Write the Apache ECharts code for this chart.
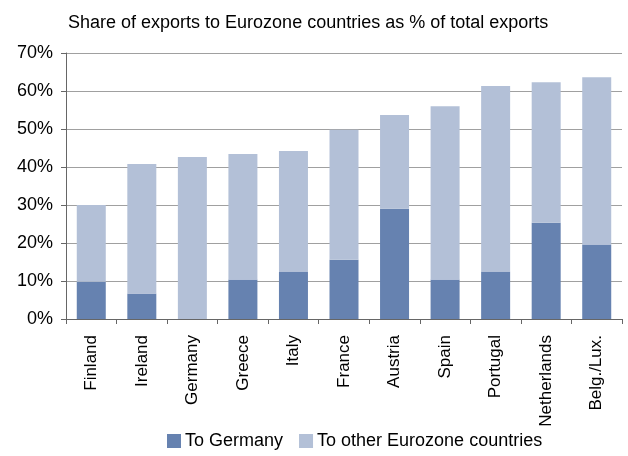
<!DOCTYPE html>
<html><head><meta charset="utf-8">
<script src="https://cdn.jsdelivr.net/npm/echarts@6/dist/echarts.min.js"></script>
<style>html,body{margin:0;padding:0;background:#fff}#c{width:628px;height:456px}</style>
</head><body><div id="c"></div>
<script>
const categories = ["Finland","Ireland","Germany","Greece","Italy","France","Austria","Spain","Portugal","Netherlands","Belg./Lux."];
const toGermany = [9.8, 6.7, 0, 10.4, 12.5, 15.6, 29.0, 10.4, 12.5, 25.3, 19.6];
const totalEurozone = [30.0, 40.8, 42.6, 43.4, 44.2, 49.8, 53.7, 56.0, 61.3, 62.3, 63.6];
const toOther = totalEurozone.map((t, i) => +(t - toGermany[i]).toFixed(1));
const yTicks = [0, 10, 20, 30, 40, 50, 60, 70];

const font = 'Liberation Sans, Arial, sans-serif';
const chart = echarts.init(document.getElementById('c'), null, {renderer: 'canvas'});
chart.setOption({
  animation: false,
  title: {text: 'Share of exports to Eurozone countries as % of total exports', left: 63, top: 9,
    textStyle: {fontFamily: font, fontSize: 18, fontWeight: 'normal', color: '#000'}},
  legend: {bottom: 1, left: 162, icon: 'rect', itemWidth: 14, itemHeight: 14, itemGap: 16,
    textStyle: {fontFamily: font, fontSize: 18, color: '#000', padding: [0, 0, 0, -1]},
    data: ['To Germany', 'To other Eurozone countries']},
  grid: {left: 66, right: 6, top: 53, bottom: 137, containLabel: false},
  xAxis: {type: 'category', data: categories,
    axisLine: {lineStyle: {color: '#666', width: 1}},
    axisTick: {show: true, alignWithLabel: false, length: 5, lineStyle: {color: '#666'}},
    axisLabel: {rotate: 90, fontFamily: font, fontSize: 17, color: '#000', margin: 16}},
  yAxis: {type: 'value', min: yTicks[0], max: yTicks[yTicks.length - 1], interval: 10,
    axisLine: {show: true, lineStyle: {color: '#666'}},
    axisTick: {show: true, inside: false, length: 5, lineStyle: {color: '#666'}},
    axisLabel: {formatter: '{value}%', fontFamily: font, fontSize: 18, color: '#000', margin: 13},
    splitLine: {lineStyle: {color: '#a0a0a0', width: 1}}},
  series: [
    {name: 'To Germany', type: 'bar', stack: 's', data: toGermany, barWidth: 29,
      itemStyle: {color: '#6682b0'}},
    {name: 'To other Eurozone countries', type: 'bar', stack: 's', data: toOther, barWidth: 29,
      itemStyle: {color: '#b3c0d7'}}
  ]
});
</script></body></html>
